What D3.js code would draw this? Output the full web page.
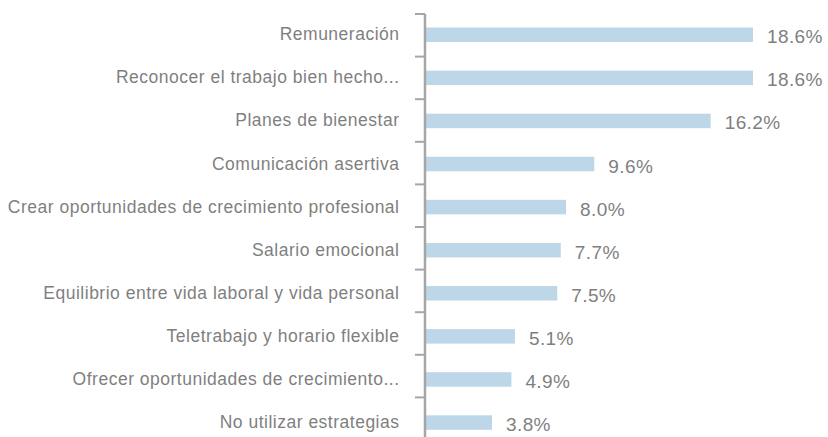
<!DOCTYPE html>
<html>
<head>
<meta charset="utf-8">
<script src="https://cdn.jsdelivr.net/npm/d3@7"></script>
<style>
  html, body { margin: 0; padding: 0; background: #fff; }
  svg { display: block; }
</style>
</head>
<body>
<svg id="chart" width="828" height="437"></svg>
<script>
const categories = [
  "Remuneración",
  "Reconocer el trabajo bien hecho...",
  "Planes de bienestar",
  "Comunicación asertiva",
  "Crear oportunidades de crecimiento profesional",
  "Salario emocional",
  "Equilibrio entre vida laboral y vida personal",
  "Teletrabajo y horario flexible",
  "Ofrecer oportunidades de crecimiento...",
  "No utilizar estrategias"
];
const values = [18.6, 18.6, 16.2, 9.6, 8.0, 7.7, 7.5, 5.1, 4.9, 3.8];
const valueLabels = ["18.6%", "18.6%", "16.2%", "9.6%", "8.0%", "7.7%", "7.5%", "5.1%", "4.9%", "3.8%"];

const svg = d3.select("#chart");
const axisX = 425;
const axisTop = 14, axisBottom = 437;

const x = d3.scaleLinear().domain([0, 18.6]).range([axisX, 753]);

// bar positions
const y = d3.scaleBand().domain(categories)
  .range([13.2, 444.1])
  .paddingInner(0.6635)
  .paddingOuter(0.332);

// category tick positions on the axis
const yTicks = d3.scaleBand().domain(categories).range([axisTop, 440]);

const grey = "#7f7f7f";
const axisGrey = "#a6a6a6";
const font = "'Liberation Sans', Arial, sans-serif";

const rows = categories.map((c, i) => ({ cat: c, value: values[i], label: valueLabels[i] }));

// bars
svg.append("g").selectAll("rect")
  .data(rows)
  .join("rect")
  .attr("x", axisX)
  .attr("y", d => y(d.cat))
  .attr("width", d => x(d.value) - axisX)
  .attr("height", y.bandwidth())
  .attr("fill", "#bdd7e9");

// value labels
svg.append("g").selectAll("text")
  .data(rows)
  .join("text")
  .attr("x", d => x(d.value) + 14)
  .attr("y", d => y(d.cat) + y.bandwidth() / 2 + 8.5)
  .attr("font-family", font)
  .attr("font-size", 19)
  .attr("letter-spacing", 0.4)
  .attr("fill", grey)
  .text(d => d.label);

// axis line and ticks between categories
const axisG = svg.append("g");
axisG.append("line")
  .attr("x1", axisX).attr("x2", axisX)
  .attr("y1", axisTop).attr("y2", axisBottom)
  .attr("stroke", axisGrey).attr("stroke-width", 2.5);
axisG.selectAll("line.tick")
  .data(categories)
  .join("line")
  .attr("class", "tick")
  .attr("x1", axisX - 10).attr("x2", axisX)
  .attr("y1", d => yTicks(d)).attr("y2", d => yTicks(d))
  .attr("stroke", axisGrey).attr("stroke-width", 2);

// category labels
svg.append("g").selectAll("text")
  .data(rows)
  .join("text")
  .attr("x", 399.5)
  .attr("y", d => y(d.cat) + y.bandwidth() / 2 + 5.5)
  .attr("text-anchor", "end")
  .attr("font-family", font)
  .attr("font-size", 17.5)
  .attr("letter-spacing", 0.5)
  .attr("fill", grey)
  .text(d => d.cat);
</script>
</body>
</html>
